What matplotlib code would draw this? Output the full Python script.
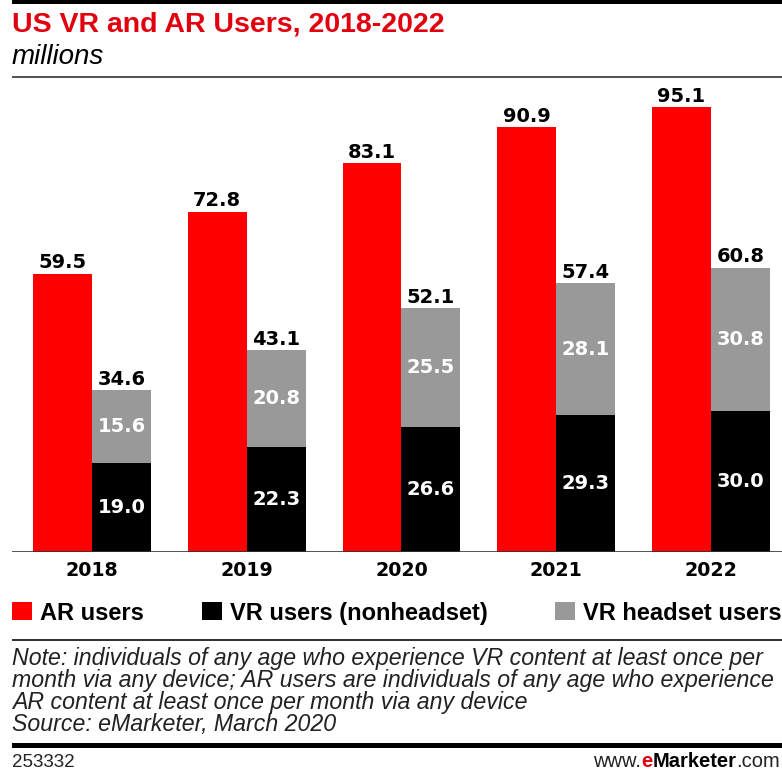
import matplotlib
matplotlib.use("Agg")
import matplotlib.pyplot as plt
import numpy as np
from matplotlib.patches import Rectangle

plt.rcParams["font.family"] = ["Liberation Sans", "DejaVu Sans"]

years = ["2018", "2019", "2020", "2021", "2022"]
ar_users = [59.5, 72.8, 83.1, 90.9, 95.1]
vr_nonheadset = [19.0, 22.3, 26.6, 29.3, 30.0]
vr_headset = [15.6, 20.8, 25.5, 28.1, 30.8]
series_names = ["AR users", "VR users (nonheadset)", "VR headset users"]

RED = "#ff0000"
GRAY = "#999999"
TITLE_RED = "#e2000f"

W, H = 782, 772
fig = plt.figure(figsize=(W / 100, H / 100), dpi=100)


def fx(px):
    return px / W


def fy(py):
    return 1 - py / H


def hrule(y_top, y_bot, color, x0=12, x1=782):
    fig.add_artist(Rectangle((fx(x0), fy(y_bot)), (x1 - x0) / W, (y_bot - y_top) / H,
                             transform=fig.transFigure, color=color, lw=0))


# --- bars ---
ax = fig.add_axes([fx(12), fy(551.5), (782 - 12) / W, 467 / H])
x = np.arange(len(years))
w = 0.381
red = ax.bar(x - w / 2, ar_users, w, color=RED)
black = ax.bar(x + w / 2, vr_nonheadset, w, color="black")
gray = ax.bar(x + w / 2, vr_headset, w, bottom=vr_nonheadset, color=GRAY)

ax.set_xlim(-0.517, 4.459)
ax.set_ylim(0, 100)
for s in ax.spines.values():
    s.set_visible(False)
ax.axhline(0, color="#333333", lw=1.2)
ax.set_yticks([])
ax.set_xticks(x, years)
ax.tick_params(axis="x", length=0, pad=7)
for lbl in ax.get_xticklabels():
    lbl.set_fontfamily("DejaVu Sans")
    lbl.set_fontweight("bold")
    lbl.set_fontsize(13.7)

val_font = dict(fontfamily="DejaVu Sans", fontweight="bold", fontsize=14)
ax.bar_label(red, fmt="{:.1f}", padding=1, **val_font)
ax.bar_label(gray, fmt="{:.1f}", padding=1, **val_font)
ax.bar_label(black, fmt="{:.1f}", label_type="center", color="white", **val_font)
ax.bar_label(gray, fmt="{:.1f}", label_type="center", color="white", **val_font)

# --- header ---
hrule(0, 3.5, "black")
fig.text(fx(12), fy(32), "US VR and AR Users, 2018-2022", color=TITLE_RED,
         fontsize=20.5, fontweight="bold", va="baseline")
fig.text(fx(12), fy(64), "millions", fontsize=20, style="italic", va="baseline")
hrule(76, 78, "#555555")

# --- legend ---
r = fig.canvas.get_renderer()
for lx, name, col in zip([12, 202, 555], series_names, [RED, "black", GRAY]):
    fig.add_artist(Rectangle((fx(lx), fy(620)), 20 / W, 18 / H,
                             transform=fig.transFigure, color=col, lw=0))
    fig.text(fx(lx + 28), fy(620), name, fontsize=17, fontweight="bold",
             va="baseline")

hrule(639, 641, "#333333")

# --- notes ---
notes = [
    "Note: individuals of any age who experience VR content at least once per",
    "month via any device; AR users are individuals of any age who experience",
    "AR content at least once per month via any device",
    "Source: eMarketer, March 2020",
]
for i, line in enumerate(notes):
    fig.text(fx(12), fy(665 + 22 * i), line, fontsize=16.7, style="italic",
             va="baseline", color="#222222")

hrule(743, 748, "black")

fig.text(fx(12), fy(767), "253332", fontsize=13.5, va="baseline", color="#222222")
runs = [("www.", dict(color="#222222")),
        ("e", dict(color=TITLE_RED, fontweight="bold")),
        ("Marketer", dict(color="black", fontweight="bold")),
        (".com", dict(color="#222222"))]
pieces = [fig.text(0, fy(767), s, fontsize=14.5, va="baseline", **kw) for s, kw in runs]
widths = [p.get_window_extent(renderer=r).width for p in pieces]
bx = 780 - sum(widths)
for p, pw in zip(pieces, widths):
    p.set_x(fx(bx))
    bx += pw

fig.savefig("out.png", dpi=100)
